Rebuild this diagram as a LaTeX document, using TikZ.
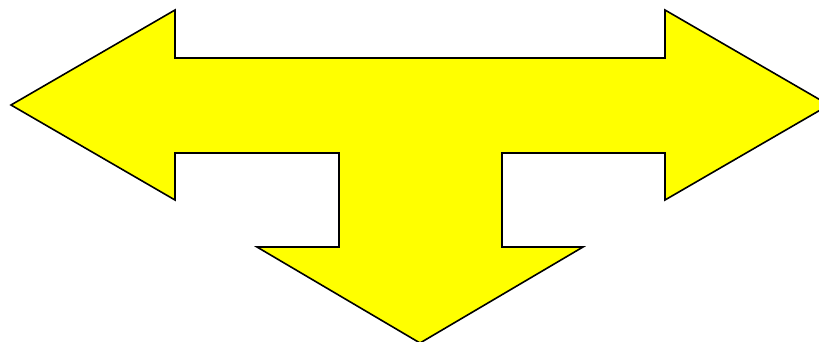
\documentclass[tikz,border=0pt]{standalone}
\definecolor{arrowyellow}{RGB}{255,255,0}
\begin{document}
\begin{tikzpicture}[x=1pt, y=-1pt, arrowshape/.style={fill=arrowyellow, draw=black, line width=1.6pt, line join=miter}]
  \useasboundingbox (0,0) rectangle (819,342);
  % three-way arrow, pixel coordinates of the sketch
  \draw[arrowshape] (11,105) -- (175,10) -- (175,58) -- (665,58) -- (665,10) -- (829,105)
    -- (665,200) -- (665,153) -- (502,153) -- (502,247) -- (583,247) -- (420,343)
    -- (257,247) -- (339,247) -- (339,153) -- (175,153) -- (175,200) -- cycle;
\end{tikzpicture}
\end{document}
